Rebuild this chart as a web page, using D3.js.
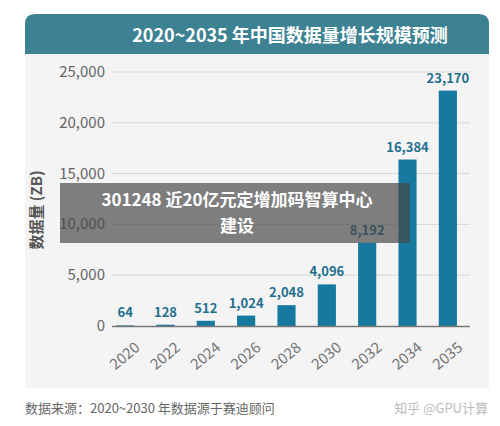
<!DOCTYPE html><html><head><meta charset="utf-8">
<script src="https://cdn.jsdelivr.net/npm/d3@7/dist/d3.min.js"></script>
<style>body{margin:0;background:#fff}svg{display:block}</style></head><body>
<svg id="c" width="500" height="426"></svg>
<script>
const years=["2020","2022","2024","2026","2028","2030","2032","2034","2035"];
const values=[64,128,512,1024,2048,4096,8192,16384,23170];
const yTicks=[0,5000,10000,15000,20000,25000];
const svg=d3.select("#c");
const F="'Noto Sans CJK SC','Noto Sans',sans-serif";
svg.append("path").attr("d","M25,388 L25,24 Q25,14 35,14 L479,14 Q489,14 489,24 L489,388 Z").attr("fill","#f4f4f4");
svg.append("path").attr("d","M25,54 L25,24 Q25,14 35,14 L479,14 Q489,14 489,24 L489,54 Z").attr("fill","#3d8293");
svg.append("text").attr("x",290).attr("y",42).attr("text-anchor","middle").attr("fill","#fff").attr("font-family",F).attr("font-weight","bold").attr("font-size",18).text("2020~2035 年中国数据量增长规模预测");
const x=d3.scaleBand().domain(years).range([108,465]).paddingInner(0.55).paddingOuter(0.2);
const y=d3.scaleLinear().domain([0,25000]).range([326,72]);
svg.append("g").selectAll("line").data(yTicks.slice(1)).join("line").attr("x1",112).attr("x2",470).attr("y1",d=>y(d)).attr("y2",d=>y(d)).attr("stroke","#d8d8d8");
svg.append("g").selectAll("text").data(yTicks).join("text").attr("x",105).attr("y",d=>y(d)+5).attr("text-anchor","end").attr("fill","#666").attr("font-family",F).attr("font-size",15).text(d3.format(","));
svg.append("g").selectAll("rect").data(values).join("rect").attr("x",(d,i)=>x(years[i])).attr("width",x.bandwidth()).attr("y",d=>y(d)).attr("height",d=>326-y(d)).attr("fill","#16799f");
svg.append("line").attr("x1",112).attr("x2",470).attr("y1",326.5).attr("y2",326.5).attr("stroke","#777").attr("stroke-width",1.5);
svg.append("g").selectAll("text").data(values).join("text").attr("x",(d,i)=>x(years[i])+x.bandwidth()/2).attr("y",d=>y(d)-8).attr("text-anchor","middle").attr("fill","#1f6f8d").attr("font-family",F).attr("font-weight","bold").attr("font-size",13).text(d3.format(","));
svg.append("g").selectAll("text").data(years).join("text").attr("transform",d=>`translate(${x(d)+x.bandwidth()/2+8},${340}) rotate(-40)`).attr("text-anchor","end").attr("dy","0.8em").attr("fill","#777").attr("font-family",F).attr("font-size",15).text(d=>d);
svg.append("text").attr("transform","translate(42,210) rotate(-90)").attr("text-anchor","middle").attr("fill","#555").attr("font-family",F).attr("font-weight","bold").attr("font-size",15).text("数据量 (ZB)");
svg.append("text").attr("x",25).attr("y",413).attr("fill","#666").attr("font-family",F).attr("font-size",13).text("数据来源：2020~2030 年数据源于赛迪顾问");
svg.append("text").attr("x",488).attr("y",413).attr("text-anchor","end").attr("fill","#bbb").attr("font-family",F).attr("font-size",13).text("知乎 @GPU计算");
svg.append("rect").attr("x",60).attr("y",183).attr("width",350).attr("height",60).attr("fill","rgba(70,70,70,0.68)");
svg.append("text").attr("x",237).attr("y",206).attr("text-anchor","middle").attr("fill","#fff").attr("font-family",F).attr("font-weight","bold").attr("font-size",17).text("301248 近20亿元定增加码智算中心");
svg.append("text").attr("x",237).attr("y",232).attr("text-anchor","middle").attr("fill","#fff").attr("font-family",F).attr("font-weight","bold").attr("font-size",17).text("建设");
</script></body></html>
